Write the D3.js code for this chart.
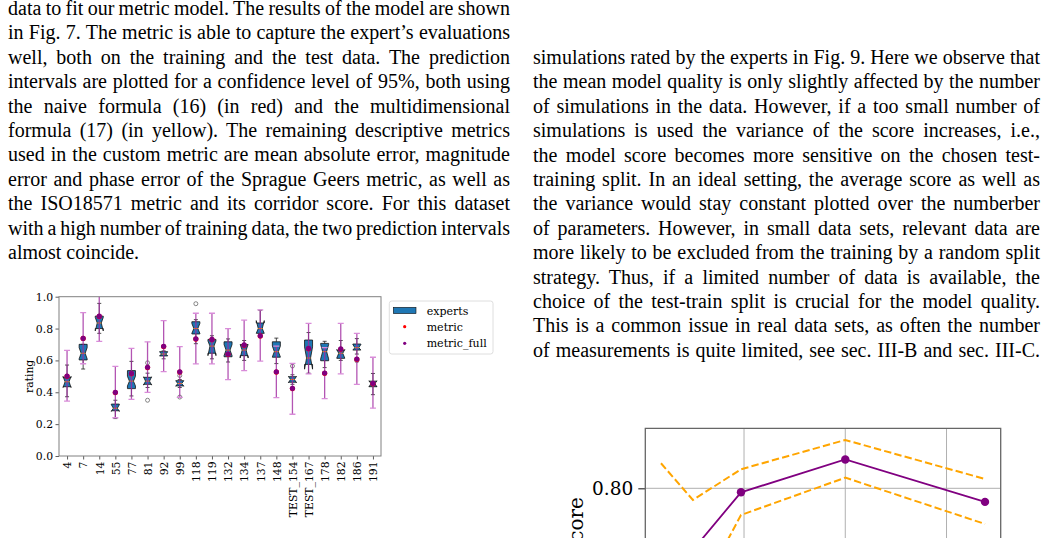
<!DOCTYPE html>
<html><head><meta charset="utf-8">
<script src="https://cdn.jsdelivr.net/npm/d3@7"></script>
<style>body{margin:0;background:#fff;overflow:hidden;} svg{display:block;}</style>
</head><body>
<script>
// ---------- text ----------
const leftLines = [
  "data to fit our metric model. The results of the model are shown",
  "in Fig. 7. The metric is able to capture the expert\u2019s evaluations",
  "well, both on the training and the test data. The prediction",
  "intervals are plotted for a confidence level of 95%, both using",
  "the naive formula (16) (in red) and the multidimensional",
  "formula (17) (in yellow). The remaining descriptive metrics",
  "used in the custom metric are mean absolute error, magnitude",
  "error and phase error of the Sprague Geers metric, as well as",
  "the ISO18571 metric and its corridor score. For this dataset",
  "with a high number of training data, the two prediction intervals",
  "almost coincide."
];
const rightLines = [
  "simulations rated by the experts in Fig. 9. Here we observe that",
  "the mean model quality is only slightly affected by the number",
  "of simulations in the data. However, if a too small number of",
  "simulations is used the variance of the score increases, i.e.,",
  "the model score becomes more sensitive on the chosen test-",
  "training split. In an ideal setting, the average score as well as",
  "the variance would stay constant plotted over the numberber",
  "of parameters. However, in small data sets, relevant data are",
  "more likely to be excluded from the training by a random split",
  "strategy. Thus, if a limited number of data is available, the",
  "choice of the test-train split is crucial for the model quality.",
  "This is a common issue in real data sets, as often the number",
  "of measurements is quite limited, see sec. III-B and sec. III-C."
];

// ---------- boxplot chart data ----------
const categories = ["4","7","14","55","77","81","92","99","118","119","132","134","137","148","TEST_154","TEST_167","178","182","186","191"];
const boxQ1      = [0.435,0.603,0.800,0.284,0.423,0.450,0.628,0.440,0.766,0.645,0.623,0.630,0.770,0.620,0.463,0.575,0.598,0.613,0.665,0.435];
const boxMedian  = [0.466,0.645,0.835,0.300,0.470,0.470,0.640,0.455,0.800,0.690,0.665,0.665,0.800,0.655,0.480,0.615,0.655,0.645,0.680,0.455];
const boxQ3      = [0.492,0.701,0.878,0.326,0.536,0.494,0.655,0.473,0.843,0.732,0.717,0.700,0.835,0.717,0.498,0.728,0.707,0.665,0.703,0.470];
const notchLow   = [0.430,0.610,0.785,0.280,0.440,0.445,0.630,0.438,0.770,0.630,0.630,0.615,0.770,0.622,0.460,0.545,0.610,0.615,0.665,0.433];
const notchHigh  = [0.500,0.680,0.870,0.322,0.500,0.497,0.652,0.472,0.832,0.722,0.700,0.700,0.850,0.690,0.500,0.685,0.700,0.668,0.700,0.472];
const whiskerLow = [0.372,0.546,0.770,0.235,0.377,0.430,0.610,0.430,0.705,0.610,0.590,0.600,0.765,0.580,0.450,0.520,0.555,0.600,0.640,0.385];
const whiskerHigh= [0.571,0.701,0.958,0.350,0.594,0.520,0.660,0.480,0.856,0.755,0.735,0.725,0.915,0.740,0.510,0.775,0.720,0.725,0.737,0.518];
const fliers     = [[],[],[],[],[],[0.585,0.350],[],[0.505,0.370],[0.956],[],[],[],[],[],[0.565],[],[],[],[0.598],[]];
const metricFull = [0.502,0.739,0.878,0.400,0.519,0.557,0.689,0.529,0.736,0.732,0.640,0.697,0.755,0.529,0.425,0.676,0.521,0.672,0.609,0.456];
const metric     = [0.500,0.738,0.876,0.398,0.517,0.555,0.687,0.527,0.734,0.730,0.638,0.695,0.753,0.527,0.423,0.674,0.519,0.670,0.607,0.454];
const errLow     = [0.345,0.579,0.720,0.240,0.356,0.400,0.530,0.368,0.578,0.578,0.480,0.536,0.596,0.366,0.262,0.515,0.360,0.516,0.450,0.300];
const errHigh    = [0.663,0.900,1.030,0.563,0.676,0.717,0.850,0.686,0.896,0.896,0.800,0.853,0.917,0.690,0.582,0.833,0.680,0.833,0.770,0.620];
const ratingTicks = [0.0,0.2,0.4,0.6,0.8,1.0];
const legendLabels = ["experts","metric","metric_full"];

// ---------- score chart data ----------
const trainFraction = [0.236,0.299,0.394,0.600,0.876];
const scoreMean  = [0.715,0.7229,0.795,0.836,0.783];
const scoreUpper = [0.8313,0.7854,0.8238,0.8604,0.8116];
const scoreLower = [0.660,0.654,0.7666,0.8133,0.7554];
const scoreTicks = [0.70,0.80,0.90];
const fractionGrid = [0.4,0.6,0.8];

const W = 1044, H = 538;
const svg = d3.select("body").append("svg").attr("width",W).attr("height",H);
const SERIF = "'Liberation Serif','Times New Roman',serif";
const MPL = "'DejaVu Serif',serif";

// ---------- paragraphs ----------
function drawPara(lines, x, y0, width, lastLeft) {
  lines.forEach((t,i)=>{
    const el = svg.append("text").attr("x",x).attr("y",y0+i*24.4)
      .attr("font-family",SERIF).attr("font-size",20).attr("fill","#000").text(t);
    const justify = !(lastLeft && i===lines.length-1);
    if (justify) {
      const w = el.node().getComputedTextLength();
      const n = (t.match(/ /g)||[]).length;
      if (n>0) el.attr("word-spacing",(width-w)/n);
    }
  });
}
drawPara(leftLines, 8, 15, 502, true);
drawPara(rightLines, 533, 64, 507, false);

// ---------- boxplot chart ----------
const L = {left:59,right:381,top:296.7,bottom:456};
const x = d3.scalePoint().domain(categories).range([L.left,L.right]).padding(0.5);
const y = d3.scaleLinear().domain([0,1]).range([L.bottom,L.top]);
const g = svg.append("g");

g.append("clipPath").attr("id","clipL").append("rect")
  .attr("x",L.left).attr("y",L.top).attr("width",L.right-L.left).attr("height",L.bottom-L.top);

const yAx = g.append("g").attr("transform",`translate(${L.left},0)`)
  .call(d3.axisLeft(y).tickValues(ratingTicks).tickFormat(d3.format(".1f")).tickSize(3.5).tickPadding(2.5));
const xAx = g.append("g").attr("transform",`translate(0,${L.bottom})`)
  .call(d3.axisBottom(x).tickSize(3.5));
[yAx,xAx].forEach(a=>{
  a.select(".domain").remove();
  a.selectAll("line").attr("stroke","#333").attr("stroke-width",0.8);
  a.selectAll("text").attr("font-family",MPL).attr("font-size",10.8).attr("fill","#000");
});
xAx.selectAll("text").attr("transform","rotate(-90)").attr("x",-5.5).attr("y",0)
  .attr("dy","0.35em").style("text-anchor","end");

g.append("text").attr("transform",`translate(32.5,${(L.top+L.bottom)/2}) rotate(-90)`)
  .attr("text-anchor","middle").attr("font-family",MPL).attr("font-size",10.8).text("rating");

const plot = g.append("g").attr("clip-path","url(#clipL)");
const bw = 8;
categories.forEach((c,i)=>{
  const cx = x(c), l = cx-bw/2, r = cx+bw/2, cl = cx-bw/4, cr = cx+bw/4;
  plot.append("line").attr("x1",cx).attr("x2",cx).attr("y1",y(boxQ1[i])).attr("y2",y(whiskerLow[i])).attr("stroke","#222").attr("stroke-width",0.8);
  plot.append("line").attr("x1",cx).attr("x2",cx).attr("y1",y(boxQ3[i])).attr("y2",y(whiskerHigh[i])).attr("stroke","#222").attr("stroke-width",0.8);
  [whiskerLow[i],whiskerHigh[i]].forEach(v=>plot.append("line").attr("x1",cl).attr("x2",cr).attr("y1",y(v)).attr("y2",y(v)).attr("stroke","#222").attr("stroke-width",0.8));
  const pts = [[l,boxQ1[i]],[r,boxQ1[i]],[r,notchLow[i]],[cr,boxMedian[i]],[r,notchHigh[i]],[r,boxQ3[i]],
               [l,boxQ3[i]],[l,notchHigh[i]],[cl,boxMedian[i]],[l,notchLow[i]]];
  plot.append("path").attr("d",d3.line().x(p=>p[0]).y(p=>y(p[1]))(pts)+"Z")
    .attr("fill","#1f77b4").attr("stroke","#111").attr("stroke-width",0.8);
  plot.append("line").attr("x1",cl).attr("x2",cr).attr("y1",y(boxMedian[i])).attr("y2",y(boxMedian[i]))
    .attr("stroke","#ff7f0e").attr("stroke-width",1);
  fliers[i].forEach(v=>plot.append("circle").attr("cx",cx).attr("cy",y(v)).attr("r",2)
    .attr("fill","none").attr("stroke","#555").attr("stroke-width",0.7));
});
categories.forEach((c,i)=>{
  const cx = x(c);
  plot.append("line").attr("x1",cx).attr("x2",cx).attr("y1",y(errLow[i])).attr("y2",y(errHigh[i]))
    .attr("stroke","#a02aa0").attr("stroke-opacity",0.8).attr("stroke-width",1.3);
  [errLow[i],errHigh[i]].forEach(v=>plot.append("line").attr("x1",cx-3).attr("x2",cx+3).attr("y1",y(v)).attr("y2",y(v))
    .attr("stroke","#d98cd9").attr("stroke-width",1.3));
});
categories.forEach((c,i)=>{
  plot.append("circle").attr("cx",x(c)).attr("cy",y(metric[i])).attr("r",2.6).attr("fill","red");
  plot.append("circle").attr("cx",x(c)).attr("cy",y(metricFull[i])).attr("r",2.6).attr("fill","purple");
});
g.append("rect").attr("x",L.left).attr("y",L.top).attr("width",L.right-L.left).attr("height",L.bottom-L.top)
  .attr("fill","none").attr("stroke","#808080").attr("stroke-width",1);

// legend
const lg = g.append("g");
lg.append("rect").attr("x",389.3).attr("y",301).attr("width",103.7).attr("height",53).attr("rx",2.5)
  .attr("fill","#fff").attr("stroke","#d6d6d6").attr("stroke-width",0.8);
lg.append("rect").attr("x",393.3).attr("y",307.3).attr("width",22.7).attr("height",6.3)
  .attr("fill","#1f77b4").attr("stroke","#111").attr("stroke-width",0.6);
lg.append("circle").attr("cx",404.7).attr("cy",326.7).attr("r",1.6).attr("fill","red");
lg.append("circle").attr("cx",404.7).attr("cy",343.3).attr("r",1.6).attr("fill","purple");
legendLabels.forEach((t,i)=>lg.append("text").attr("x",426.7).attr("y",[310.7,326.7,343.3][i]).attr("dy","0.35em")
  .attr("font-family",MPL).attr("font-size",11).text(t));

// ---------- score chart ----------
const R = {left:645.3,right:1000.7,top:428.3,bottom:620};
const xs = d3.scaleLinear().domain([0.205,0.907]).range([R.left,R.right]);
const ys = d3.scaleLinear().domain([0.70,0.875]).range([568.3,R.top]);
const visibleTicks = scoreTicks.filter(v=>ys(v)>=R.top && ys(v)<=H);
const g2 = svg.append("g");
g2.append("clipPath").attr("id","clipR").append("rect")
  .attr("x",R.left).attr("y",R.top).attr("width",R.right-R.left).attr("height",R.bottom-R.top);
const p2 = g2.append("g").attr("clip-path","url(#clipR)");
fractionGrid.forEach(v=>p2.append("line").attr("x1",xs(v)).attr("x2",xs(v)).attr("y1",R.top).attr("y2",R.bottom)
  .attr("stroke","#b0b0b0").attr("stroke-width",1));
scoreTicks.forEach(v=>p2.append("line").attr("x1",R.left).attr("x2",R.right).attr("y1",ys(v)).attr("y2",ys(v))
  .attr("stroke","#b0b0b0").attr("stroke-width",1));
const ln = d3.line().x((d,i)=>xs(trainFraction[i])).y(d=>ys(d));
[scoreUpper,scoreLower].forEach(s=>p2.append("path").attr("d",ln(s)).attr("fill","none")
  .attr("stroke","orange").attr("stroke-width",2).attr("stroke-dasharray","7.4,3.2"));
p2.append("path").attr("d",ln(scoreMean)).attr("fill","none").attr("stroke","purple").attr("stroke-width",1.8);
scoreMean.forEach((v,i)=>p2.append("circle").attr("cx",xs(trainFraction[i])).attr("cy",ys(v)).attr("r",4.2).attr("fill","purple"));
const yAx2 = g2.append("g").attr("transform",`translate(${R.left},0)`)
  .call(d3.axisLeft(ys).tickValues(visibleTicks).tickFormat(d3.format(".2f")).tickSize(7).tickPadding(5));
yAx2.select(".domain").remove();
yAx2.selectAll("line").attr("stroke","#333").attr("stroke-width",1.2);
yAx2.selectAll("text").attr("font-family",MPL).attr("font-size",18.5).attr("fill","#000");
g2.append("path").attr("d",`M${R.left},${R.bottom}V${R.top}H${R.right}V${R.bottom}`)
  .attr("fill","none").attr("stroke","#666").attr("stroke-width",1.3);
g2.append("text").attr("transform",`translate(583,524.5) rotate(-90)`).attr("text-anchor","middle")
  .attr("font-family",MPL).attr("font-size",20).text("score");
</script>
</body></html>
